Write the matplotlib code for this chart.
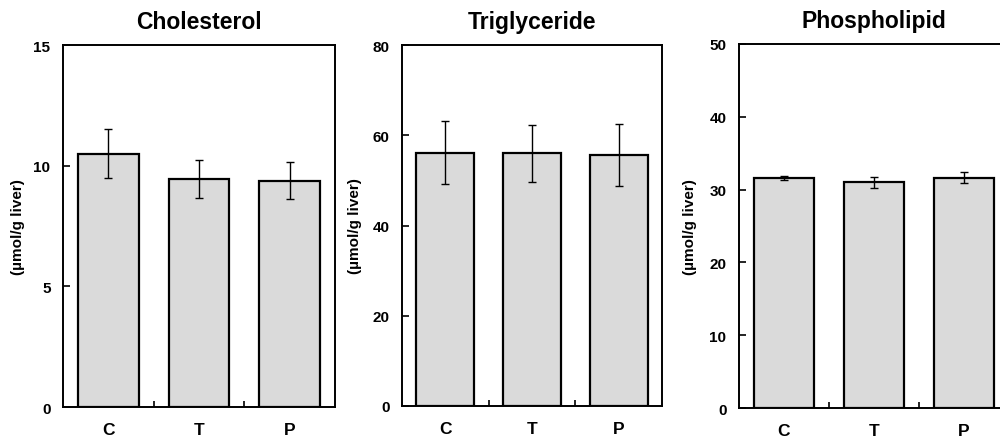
import matplotlib
matplotlib.use("Agg")
import matplotlib.pyplot as plt

groups = ["C", "T", "P"]
titles = ["Cholesterol", "Triglyceride", "Phospholipid"]
chol_mean = [10.5, 9.45, 9.38]
chol_err = [1.0, 0.77, 0.77]
tg_mean = [56.1, 56.0, 55.7]
tg_err = [7.0, 6.3, 6.9]
pl_mean = [31.6, 31.0, 31.6]
pl_err = [0.3, 0.8, 0.75]
ylims = [15, 80, 50]
yticks_list = [[0, 5, 10, 15], [0, 20, 40, 60, 80], [0, 10, 20, 30, 40, 50]]
ylabel = "(µmol/g liver)"

plt.rcParams['font.family'] = ['Liberation Sans', 'DejaVu Sans']
plt.rcParams['font.weight'] = 'bold'

fig = plt.figure(figsize=(10, 4.39), dpi=100)
positions = [
    [0.063, 0.0706, 0.272, 0.8246],
    [0.402, 0.0729, 0.260, 0.8223],
    [0.739, 0.0683, 0.270, 0.8292],
]
ylabel_x = [-0.165, -0.181, -0.181]
means = [chol_mean, tg_mean, pl_mean]
errs = [chol_err, tg_err, pl_err]

for i in range(3):
    ax = fig.add_axes(positions[i])
    x = list(range(len(groups)))
    ax.bar(x, means[i], width=0.67, color='#dadada', edgecolor='black', linewidth=1.6, zorder=2)
    ax.errorbar(x, means[i], yerr=errs[i], fmt='none', ecolor='black', elinewidth=1.0,
                capsize=3, capthick=1.0, zorder=3)
    ax.set_xlim(-0.5, 2.5)
    ax.set_ylim(0, ylims[i])
    ax.set_yticks(yticks_list[i])
    ax.set_yticklabels([str(v) for v in yticks_list[i]], fontsize=11, fontweight='bold')
    ax.set_xticks(x)
    ax.set_xticklabels(groups, fontsize=12.5, fontweight='bold')
    ax.set_xticks([0.5, 1.5], minor=True)
    ax.tick_params(axis='x', which='major', length=0, pad=10.5)
    ax.tick_params(axis='x', which='minor', direction='in', length=4, width=1.2)
    ax.tick_params(axis='y', which='major', direction='in', length=5, width=1.2, pad=9)
    for sp in ax.spines.values():
        sp.set_linewidth(1.4)
    ax.set_title(titles[i], fontsize=16.5, fontweight='bold', pad=12)
    ax.text(ylabel_x[i], 0.5, ylabel, transform=ax.transAxes, rotation=90,
            ha='center', va='center', fontsize=11, fontweight='bold')

fig.savefig("out.png", dpi=100)
